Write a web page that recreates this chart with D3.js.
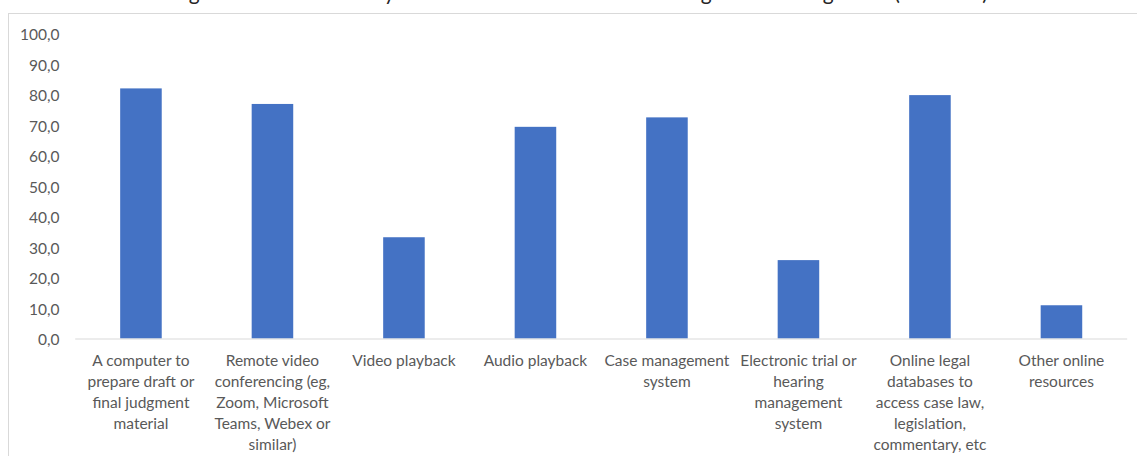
<!DOCTYPE html>
<html><head><meta charset="utf-8">
<script src="https://cdn.jsdelivr.net/npm/d3@7"></script>
<style>
html,body{margin:0;padding:0;background:#fff;overflow:hidden;}
svg{display:block;}
</style></head>
<body>
<div id="chart"></div>
<script>
const titleText = "Using electronic tools daily in the court – for all those hearing and deciding cases (all courts)";
const categories = [
  ["A computer to", "prepare draft or", "final judgment", "material"],
  ["Remote video", "conferencing (eg,", "Zoom, Microsoft", "Teams, Webex or", "similar)"],
  ["Video playback"],
  ["Audio playback"],
  ["Case management", "system"],
  ["Electronic trial or", "hearing", "management", "system"],
  ["Online legal", "databases to", "access case law,", "legislation,", "commentary, etc"],
  ["Other online", "resources"]
];
const values = [82.0, 76.9, 33.2, 69.4, 72.5, 25.7, 79.8, 10.9];
const yTicks = [0, 10, 20, 30, 40, 50, 60, 70, 80, 90, 100];

const W = 1137, H = 456;
const svg = d3.select("#chart").append("svg").attr("width", W).attr("height", H);
const font = "Lato, 'Open Sans', sans-serif";

// chart area border
svg.append("rect").attr("x", 8.5).attr("y", 13.5).attr("width", 1400).attr("height", 600)
  .attr("fill", "none").attr("stroke", "#d9d9d9").attr("stroke-width", 1);

// title (clipped at the top, only descenders visible)
svg.append("text").attr("x", 568).attr("y", -0.5).attr("text-anchor", "middle")
  .attr("font-family", font).attr("font-size", 21).attr("fill", "#262626").text(titleText);

const idx = categories.map((d, i) => i);
const x = d3.scaleBand().domain(idx).range([75.2, 1127.2]).paddingInner(0.684).paddingOuter(0.342);
const y = d3.scaleLinear().domain([0, 100]).range([338.5, 33.5]);

// bars
svg.append("g").selectAll("rect").data(values).join("rect")
  .attr("x", (d, i) => x(i)).attr("width", x.bandwidth())
  .attr("y", d => y(d)).attr("height", d => y(0) - y(d))
  .attr("fill", "#4472c4");

// y axis
const yAxis = d3.axisLeft(y).tickValues(yTicks).tickSize(0).tickPadding(0)
  .tickFormat(d => d3.format(".1f")(d).replace(".", ","));
const gy = svg.append("g").attr("transform", "translate(59.5,1.5)").call(yAxis);
gy.select(".domain").remove();
gy.selectAll("text").attr("font-family", font).attr("font-size", 15.5).attr("fill", "#595959");

// x axis
const xAxis = d3.axisBottom(x).tickSize(0).tickFormat("");
const gx = svg.append("g").attr("transform", `translate(0,${y(0)})`).call(xAxis);
gx.select(".domain").attr("stroke", "#d9d9d9").attr("stroke-width", 1.2)
  .attr("d", "M75.2,0.5H1127.2");

// category labels
const lab = svg.append("g");
categories.forEach((lines, i) => {
  const t = lab.append("text").attr("text-anchor", "middle")
    .attr("font-family", font).attr("font-size", 15.5).attr("fill", "#595959");
  lines.forEach((ln, j) => {
    t.append("tspan").attr("x", x(i) + x.bandwidth() / 2).attr("y", 366 + j * 21).text(ln);
  });
});
</script>
</body></html>
